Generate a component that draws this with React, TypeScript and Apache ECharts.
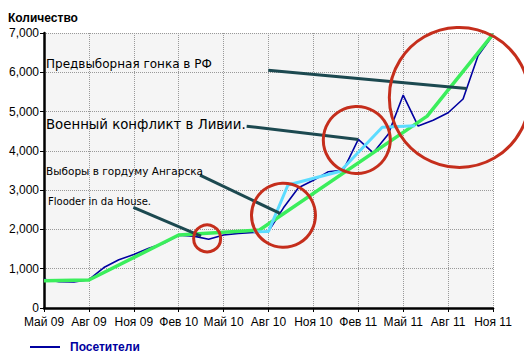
import React, { useEffect, useRef } from "react";
import * as echarts from "echarts";

// x axis: month index from May 2009 (0) to Nov 2011 (30), labelled every 3 months
const xTickLabels = [
  "Май 09", "Авг 09", "Ноя 09", "Фев 10", "Май 10", "Авг 10",
  "Ноя 10", "Фев 11", "Май 11", "Авг 11", "Ноя 11",
];

// monthly visitors
const visitors = [
  730, 670, 660, 720, 1030, 1230, 1360, 1520, 1650, 1850, 1830, 1750, 1860,
  1900, 1920, 1950, 2550, 3060, 3250, 3470, 3510, 4290, 3950, 4420, 5420,
  4630, 4780, 4970, 5320, 6420, 6950,
];

// green trend line (month index, value)
const trendX = [0, 3, 9, 14.4, 25.6, 30];
const trendY = [695, 712, 1857, 1985, 4885, 6970];

// cyan highlight line
const hlX = [14, 15, 16.3, 19.8, 22.6, 24.8];
const hlY = [1940, 1950, 3130, 3480, 4600, 4640];

// red circles (centres in month index / value)
const circleX = [10.9, 16, 20.9, 27.75];
const circleY = [1770, 2360, 4275, 5360];
const circleSize = [27, 64, 67, 140];

// annotation pointer lines: start and end in month index / value
const pointerStartX = [14.98, 13.54, 10.42, 5.97];
const pointerStartY = [6053, 4627, 3382, 2560];
const pointerEndX = [28.24, 21.0, 15.77, 10.49];
const pointerEndY = [5587, 4289, 2408, 1831];

const annotations = [
  "Предвыборная гонка в РФ",
  "Военный конфликт в Ливии.",
  "Выборы в гордуму Ангарска",
  "Flooder in da House.",
];

export default function App() {
  const ref = useRef<HTMLDivElement>(null);
  useEffect(() => {
    if (!ref.current) return;
    const chart = echarts.init(ref.current, null, { renderer: "svg" });
    const axisFont = { fontFamily: "Liberation Sans", fontSize: 12, color: "#000" };

    const pointerSeries = pointerStartX.map((_, i) => ({
      type: "line",
      name: "p" + i,
      data: [
        [pointerStartX[i], pointerStartY[i]],
        [pointerEndX[i], pointerEndY[i]],
      ],
      symbol: "none",
      lineStyle: { color: "#1c4950", width: 3 },
      silent: true,
      clip: false,
      z: 5,
    }));

    chart.setOption({
      animation: false,
      backgroundColor: "#fff",
      title: {
        text: "Количество",
        left: 3,
        top: 7,
        textStyle: { fontFamily: "Liberation Sans", fontSize: 12, fontWeight: "bold", color: "#000" },
      },
      legend: {
        data: ["Посетители"],
        left: 25,
        top: 336,
        icon: "rect",
        itemWidth: 30,
        itemHeight: 2,
        textStyle: {
          fontFamily: "Liberation Sans",
          fontSize: 12,
          fontWeight: "bold",
          color: "#0000a0",
          padding: [0, 0, 0, 5],
        },
      },
      grid: {
        left: 44,
        right: 31,
        top: 33,
        bottom: 46,
        show: true,
        backgroundColor: "#f5f5f5",
        borderWidth: 0,
      },
      xAxis: {
        type: "value",
        min: 0,
        max: 30,
        interval: 3,
        axisLine: { show: true, lineStyle: { color: "#000", width: 2.5 } },
        axisTick: { show: true, length: 4, lineStyle: { color: "#000", width: 1 } },
        axisLabel: {
          ...axisFont,
          margin: 8,
          formatter: (v: number) => xTickLabels[Math.round(v / 3)] ?? "",
        },
        splitLine: { show: true, lineStyle: { color: "#999", type: "dotted", width: 1 } },
      },
      yAxis: {
        type: "value",
        min: 0,
        max: 7000,
        interval: 1000,
        axisLine: { show: true, lineStyle: { color: "#000", width: 2.5 } },
        axisTick: { show: true, length: 4, lineStyle: { color: "#000", width: 1 } },
        axisLabel: {
          ...axisFont,
          margin: 5,
          formatter: (v: number) => v.toLocaleString("en-US"),
        },
        splitLine: { show: true, lineStyle: { color: "#999", type: "dotted", width: 1 } },
      },
      series: [
        {
          type: "line",
          name: "Посетители",
          data: visitors.map((v, i) => [i, v]),
          symbol: "none",
          lineStyle: { color: "#0000a0", width: 1.6 },
          itemStyle: { color: "#0000a0" },
          z: 2,
        },
        {
          type: "line",
          name: "trend",
          data: trendX.map((x, i) => [x, trendY[i]]),
          symbol: "none",
          lineStyle: { color: "#3bee5c", width: 3.5 },
          z: 3,
        },
        {
          type: "line",
          name: "highlight",
          data: hlX.map((x, i) => [x, hlY[i]]),
          symbol: "none",
          lineStyle: { color: "#5cdcff", width: 3 },
          z: 4,
        },
        ...pointerSeries,
        {
          type: "scatter",
          name: "circles",
          data: circleX.map((x, i) => [x, circleY[i], circleSize[i]]),
          symbol: "circle",
          symbolSize: (d: number[]) => d[2],
          itemStyle: {
            color: "rgba(0,0,0,0)",
            borderColor: "#c52e1c",
            borderWidth: 3,
            opacity: 1,
          },
          silent: true,
          clip: false,
          z: 6,
        },
      ],
      graphic: [
        { type: "text", x: 46, y: 64, z: 10, style: { text: annotations[0], font: '12px "DejaVu Sans"', fill: "#000", verticalAlign: "middle" } },
        { type: "text", x: 46, y: 124, z: 10, style: { text: annotations[1], font: '13.3px "DejaVu Sans"', fill: "#000", verticalAlign: "middle" } },
        { type: "text", x: 46, y: 171, z: 10, style: { text: annotations[2], font: '10.5px "DejaVu Sans"', fill: "#000", verticalAlign: "middle" } },
        { type: "text", x: 48, y: 201, z: 10, style: { text: annotations[3], font: '10px "DejaVu Sans"', fill: "#000", verticalAlign: "middle" } },
      ],
    });
    return () => chart.dispose();
  }, []);
  return (
    <div
      ref={ref}
      style={{ position: "fixed", left: 0, top: 0, width: 524, height: 354 }}
    />
  );
}
